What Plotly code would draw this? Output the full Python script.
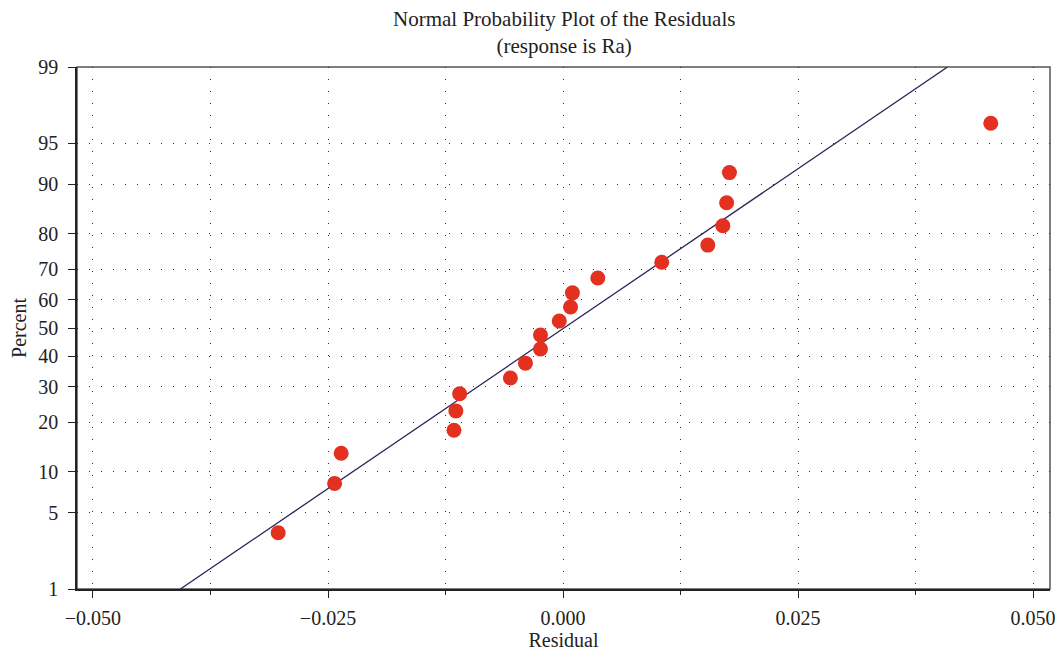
import plotly.graph_objects as go
from statistics import NormalDist

nd = NormalDist()

# Residuals
residual = [-0.0303, -0.0243, -0.0236, -0.0116, -0.0114, -0.0110, -0.0056, -0.0040,
            -0.0024, -0.0024, -0.0004, 0.0008, 0.0010, 0.0037, 0.0105, 0.0154,
            0.0170, 0.0174, 0.0177, 0.0455]
percent = [3.4, 8.3, 13.2, 18.1, 23.0, 27.9, 32.8, 37.7, 42.6, 47.5,
           52.5, 57.4, 62.3, 67.2, 72.1, 77.0, 81.9, 86.8, 91.7, 96.6]

# Fitted reference line endpoints
line_x = [-0.0407, 0.0409]
line_p = [1, 99]

y_ticks = [1, 5, 10, 20, 30, 40, 50, 60, 70, 80, 90, 95, 99]
x_ticks = [-0.050, -0.025, 0.000, 0.025, 0.050]
x_labels = ["\u22120.050", "\u22120.025", "0.000", "0.025", "0.050"]


def z(p):
    return nd.inv_cdf(p / 100.0)


fig = go.Figure()
fig.add_trace(go.Scatter(
    x=line_x, y=[z(p) for p in line_p], mode="lines",
    line=dict(color="#2a2456", width=1.3), hoverinfo="skip", showlegend=False,
))
fig.add_trace(go.Scatter(
    x=residual, y=[z(p) for p in percent], mode="markers",
    marker=dict(color="#e3301f", size=15, line=dict(width=0)),
    showlegend=False,
))

font = "Liberation Serif, DejaVu Serif, serif"
grid_dash = "1px,11px"
FS = 20

# page body adds an 8px offset on top/left; figure is sized to compensate
fig.update_layout(
    width=1055, height=647,
    margin=dict(l=64, r=8, t=59, b=65),
    paper_bgcolor="white", plot_bgcolor="white",
    font=dict(family=font, size=FS, color="#222"),
    annotations=[dict(
        text="Normal Probability Plot of the Residuals<br>(response is Ra)",
        x=0.5, xref="paper", xanchor="center",
        y=1, yref="paper", yanchor="bottom", yshift=7,
        showarrow=False, align="center",
        font=dict(family=font, size=21, color="#222"),
    )],
    shapes=[dict(type="rect", xref="paper", yref="paper", x0=0, y0=0, x1=1, y1=1,
                 line=dict(color="#555", width=1.5), layer="below")],
)

fig.update_xaxes(
    range=[-0.0517, 0.0518],
    tickvals=x_ticks, ticktext=x_labels,
    ticks="outside", ticklen=7, tickwidth=1.2, tickcolor="#222",
    showline=True, linecolor="#222", linewidth=1.5,
    showgrid=True, gridcolor="#333", gridwidth=1, griddash=grid_dash,
    minor=dict(dtick=0.0125, tick0=-0.05, ticks="outside", ticklen=4,
               tickcolor="#222", showgrid=True, gridcolor="#333",
               gridwidth=1, griddash=grid_dash),
    zeroline=False,
    ticklabelstandoff=3,
    title=dict(text="Residual", standoff=4, font=dict(family=font, size=FS)),
    tickfont=dict(family=font, size=FS),
)

fig.update_yaxes(
    range=[z(1), z(99)],
    tickvals=[z(p) for p in y_ticks], ticktext=[str(p) for p in y_ticks],
    ticks="outside", ticklen=7, tickwidth=1.2, tickcolor="#222",
    showline=True, linecolor="#222", linewidth=1.5,
    showgrid=True, gridcolor="#333", gridwidth=1, griddash=grid_dash,
    zeroline=False,
    ticklabelstandoff=6,
    title=dict(text="Percent", standoff=8, font=dict(family=font, size=FS)),
    tickfont=dict(family=font, size=FS),
)

fig.write_html("out.html")
